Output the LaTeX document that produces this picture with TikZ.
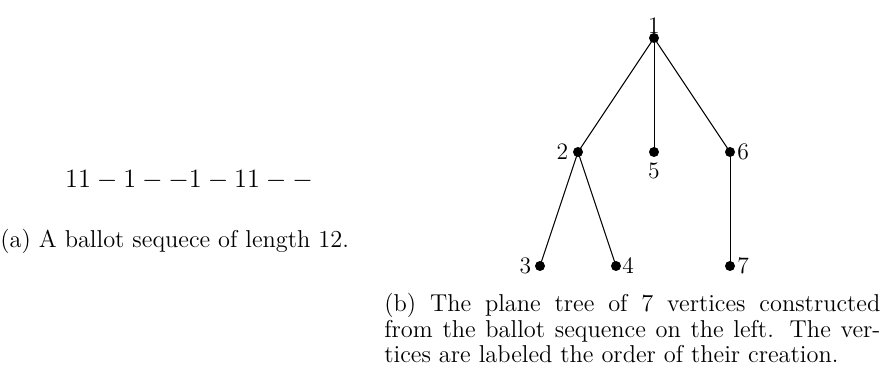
\documentclass[tikz,border=0pt]{standalone}
\usepackage{fontspec}
\usepackage{graphicx}
\begin{document}
\begin{tikzpicture}[x=0.5pt,y=-0.5pt,
  vtx/.style={circle,fill=black,inner sep=0pt,minimum size=5pt},
  edge/.style={draw=black,line width=0.5pt},
  lbl/.style={inner sep=0pt,font=\fontsize{11.8}{14}\selectfont},
  captext/.style={inner sep=0pt,font=\fontsize{12.2}{12.8}\selectfont}]
\useasboundingbox (0,0) rectangle (885,379);
\node[vtx,label={[lbl,label distance=-0.5pt]above:1}] (v1) at (654,38) {};
\node[vtx,label={[lbl,label distance=2pt]left:2}] (v2) at (578,152) {};
\node[vtx,label={[lbl,label distance=2.5pt]below:5}] (v5) at (654,152) {};
\node[vtx,label={[lbl,label distance=0.8pt]right:6}] (v6) at (730,152) {};
\node[vtx,label={[lbl,label distance=1.5pt]left:3}] (v3) at (540,266) {};
\node[vtx,label={[lbl,label distance=0.3pt]right:4}] (v4) at (616,266) {};
\node[vtx,label={[lbl,label distance=0.8pt]right:7}] (v7) at (730,266) {};
\draw[edge] (v1.center) -- (v2.center);
\draw[edge] (v1.center) -- (v5.center);
\draw[edge] (v1.center) -- (v6.center);
\draw[edge] (v2.center) -- (v3.center);
\draw[edge] (v2.center) -- (v4.center);
\draw[edge] (v6.center) -- (v7.center);
\node[anchor=base,inner sep=0pt] (seq) at (189,188) {\scalebox{1.1}{\large$11-1--1-11--$}};
\node[captext,anchor=base west] (capa) at (0,248) {(a) A ballot sequece of length 12.};
\node[captext,anchor=north west,text width=248pt,align=justify] (capb) at (384,293)
  {(b) The plane tree of 7 vertices constructed\linebreak from the ballot sequence on the left. The ver-\linebreak tices are labeled the order of their creation.};
\end{tikzpicture}
\end{document}
